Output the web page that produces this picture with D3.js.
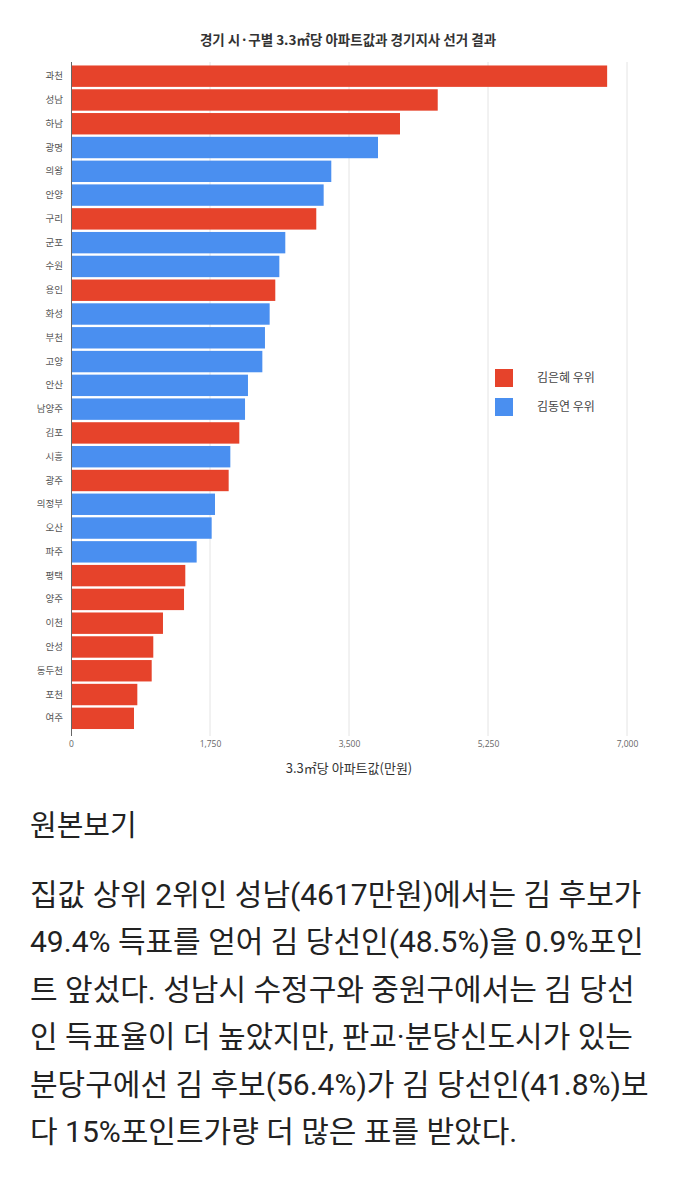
<!DOCTYPE html>
<html><head><meta charset="utf-8">
<script src="https://cdn.jsdelivr.net/npm/d3@7"></script>
<style>
html,body{margin:0;padding:0;background:#fff;}
svg{display:block;}
</style></head>
<body>
<script>
const categories = ["과천","성남","하남","광명","의왕","안양","구리","군포","수원","용인","화성","부천","고양","안산","남양주","김포","시흥","광주","의정부","오산","파주","평택","양주","이천","안성","동두천","포천","여주"];
const prices = [6750,4617,4142,3865,3277,3181,3088,2698,2623,2572,2501,2442,2409,2228,2191,2119,2006,1985,1813,1771,1582,1439,1423,1158,1036,1016,835,793];
const winners = ["R","R","R","B","B","B","R","B","B","R","B","B","B","B","B","R","B","R","B","B","B","R","R","R","R","R","R","R"];
const legendLabels = [["R","김은혜 우위"],["B","김동연 우위"]];
const xTicks = [0,1750,3500,5250,7000];
const title = "경기 시·구별 3.3㎡당 아파트값과 경기지사 선거 결과";
const xTitle = "3.3㎡당 아파트값(만원)";
const linkText = "원본보기";
const bodyLines = [
 "집값 상위 2위인 성남(4617만원)에서는 김 후보가",
 "49.4% 득표를 얻어 김 당선인(48.5%)을 0.9%포인",
 "트 앞섰다. 성남시 수정구와 중원구에서는 김 당선",
 "인 득표율이 더 높았지만, 판교·분당신도시가 있는",
 "분당구에선 김 후보(56.4%)가 김 당선인(41.8%)보",
 "다 15%포인트가량 더 많은 표를 받았다."
];

const W = 683, H = 1200;
const svg = d3.select("body").append("svg").attr("width", W).attr("height", H);
const color = d3.scaleOrdinal().domain(["R","B"]).range(["#e6432b","#4a8ff0"]);
const kfont = "'Noto Sans CJK KR','Noto Sans',sans-serif";

const x = d3.scaleLinear().domain([0,7000]).range([71,627]);
const y = d3.scaleBand().domain(categories).range([65,729.5]).paddingInner(0.1).paddingOuter(0.02);

// title
svg.append("text").attr("x",348).attr("y",45).attr("text-anchor","middle")
  .attr("font-family",kfont).attr("font-weight","bold").attr("font-size",13.5).attr("fill","#333").text(title);

// gridlines
svg.append("g").selectAll("line").data(xTicks.slice(1)).join("line")
  .attr("x1",d=>x(d)).attr("x2",d=>x(d)).attr("y1",62).attr("y2",736)
  .attr("stroke","#e4e4e4").attr("stroke-width",1);

// bars
svg.append("g").selectAll("rect").data(categories).join("rect")
  .attr("x",x(0)).attr("y",d=>y(d))
  .attr("width",(d,i)=>x(prices[i])-x(0)).attr("height",y.bandwidth())
  .attr("fill",(d,i)=>color(winners[i]));

// y axis line
svg.append("line").attr("x1",71.5).attr("x2",71.5).attr("y1",62).attr("y2",736).attr("stroke","#666").attr("stroke-width",1);

// y labels
const yAxis = d3.axisLeft(y).tickSize(0).tickPadding(8);
const gy = svg.append("g").attr("transform","translate(71,0)").call(yAxis);
gy.select(".domain").remove();
gy.selectAll("text").attr("font-family",kfont).attr("font-size",9.5).attr("fill","#555");

// x axis
const xAxis = d3.axisBottom(x).tickValues(xTicks).tickSize(0).tickPadding(0).tickFormat(d3.format(","));
const gx = svg.append("g").attr("transform","translate(0,739)").call(xAxis);
gx.select(".domain").remove();
gx.selectAll("text").attr("font-family","'Open Sans',sans-serif").attr("font-size",8.5).attr("fill","#666").attr("dy","0.9em");

svg.append("text").attr("x",349).attr("y",773).attr("text-anchor","middle")
  .attr("font-family",kfont).attr("font-size",13).attr("fill","#333").text(xTitle);

// legend
const lg = svg.append("g").selectAll("g").data(legendLabels).join("g")
  .attr("transform",(d,i)=>`translate(495,${369+i*29})`);
lg.append("rect").attr("width",18).attr("height",18).attr("fill",d=>color(d[0]));
lg.append("text").attr("x",42).attr("y",9).attr("dy","0.35em")
  .attr("font-family",kfont).attr("font-size",12).attr("fill","#444").text(d=>d[1]);

// body
svg.append("text").attr("x",30).attr("y",836).attr("font-family",kfont).attr("font-size",29).attr("fill","#222").text(linkText);
svg.append("g").selectAll("text").data(bodyLines).join("text")
  .attr("x",30).attr("y",(d,i)=>904.5+i*47.5)
  .attr("font-family","Roboto,'Noto Sans CJK KR',sans-serif").attr("font-size",30).attr("fill","#222").text(d=>d);
</script>
</body></html>
